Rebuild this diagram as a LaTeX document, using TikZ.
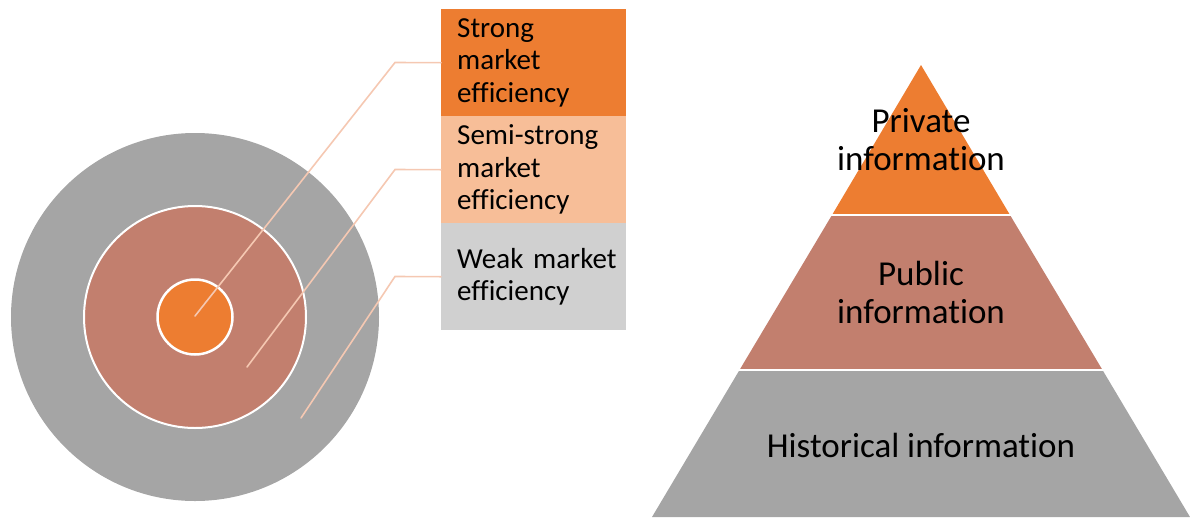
\documentclass[tikz,border=0pt]{standalone}
\usepackage{fontspec}
\setmainfont{Carlito}[Ligatures=NoCommon]
\definecolor{accentorange}{HTML}{ED7D31}
\definecolor{peach}{HTML}{F7BE98}
\definecolor{lightgray}{HTML}{D0D0D0}
\definecolor{midgray}{HTML}{A5A5A5}
\definecolor{rosebrown}{HTML}{C27F6E}
\definecolor{leaderline}{HTML}{F5C8B2}
\begin{document}
\begin{tikzpicture}[x=1pt,y=-1pt,
  ring/.style={circle, inner sep=0pt},
  levelbox/.style={anchor=north west, minimum width=185pt, minimum height=107pt,
    text width=153pt, inner xsep=16pt, inner ysep=0pt, align=left,
    font=\fontsize{29}{32.5}\selectfont},
  leader/.style={draw=leaderline, line width=1.6pt, line cap=round},
  tierlabel/.style={align=center, inner sep=0pt, font=\fontsize{35}{38}\selectfont}]
\useasboundingbox (0,0) rectangle (1190,517);

% concentric rings
\node[ring, fill=midgray, minimum size=368pt] (outer) at (195,317) {};
\node[ring, fill=rosebrown, draw=white, line width=2pt, minimum size=222pt] (middle) at (195,317) {};
\node[ring, fill=accentorange, draw=white, line width=2.5pt, minimum size=75pt] (inner) at (195,317) {};

% legend boxes
\node[levelbox, fill=accentorange] (strong) at (441,9) {Strong\\market\\efficiency};
\node[levelbox, fill=peach] (semi) at (441,116) {Semi-strong\\market\\efficiency};
\node[levelbox, fill=lightgray] (weak) at (441,223) {\mbox{Weak market}\\efficiency};

% leader lines from rings to boxes
\coordinate (p1) at (195,316);
\coordinate (p2) at (247,367);
\coordinate (p3) at (301,418);
\coordinate (k1) at (395,62.5);
\coordinate (k2) at (395,169.5);
\coordinate (k3) at (395,276.5);
\draw[leader] (p1) -- (k1) -- (strong.west);
\draw[leader] (p2) -- (k2) -- (semi.west);
\draw[leader] (p3) -- (k3) -- (weak.west);

% information pyramid
\fill[accentorange] (921,65) -- (1010,215) -- (832,215) -- cycle;
\fill[rosebrown] (832,215) -- (1010,215) -- (1102.5,370) -- (739.5,370) -- cycle;
\fill[midgray] (739.5,370) -- (1102.5,370) -- (1190,517) -- (652,517) -- cycle;
\draw[white, line width=2.5pt] (828,215) -- (1014,215);
\draw[white, line width=2.5pt] (735,370) -- (1106,370);

\node[tierlabel] (private) at (921,140) {Private\\information};
\node[tierlabel] (public) at (921,292) {Public\\information};
\node[tierlabel] (historical) at (921,445) {Historical information};
\end{tikzpicture}
\end{document}
